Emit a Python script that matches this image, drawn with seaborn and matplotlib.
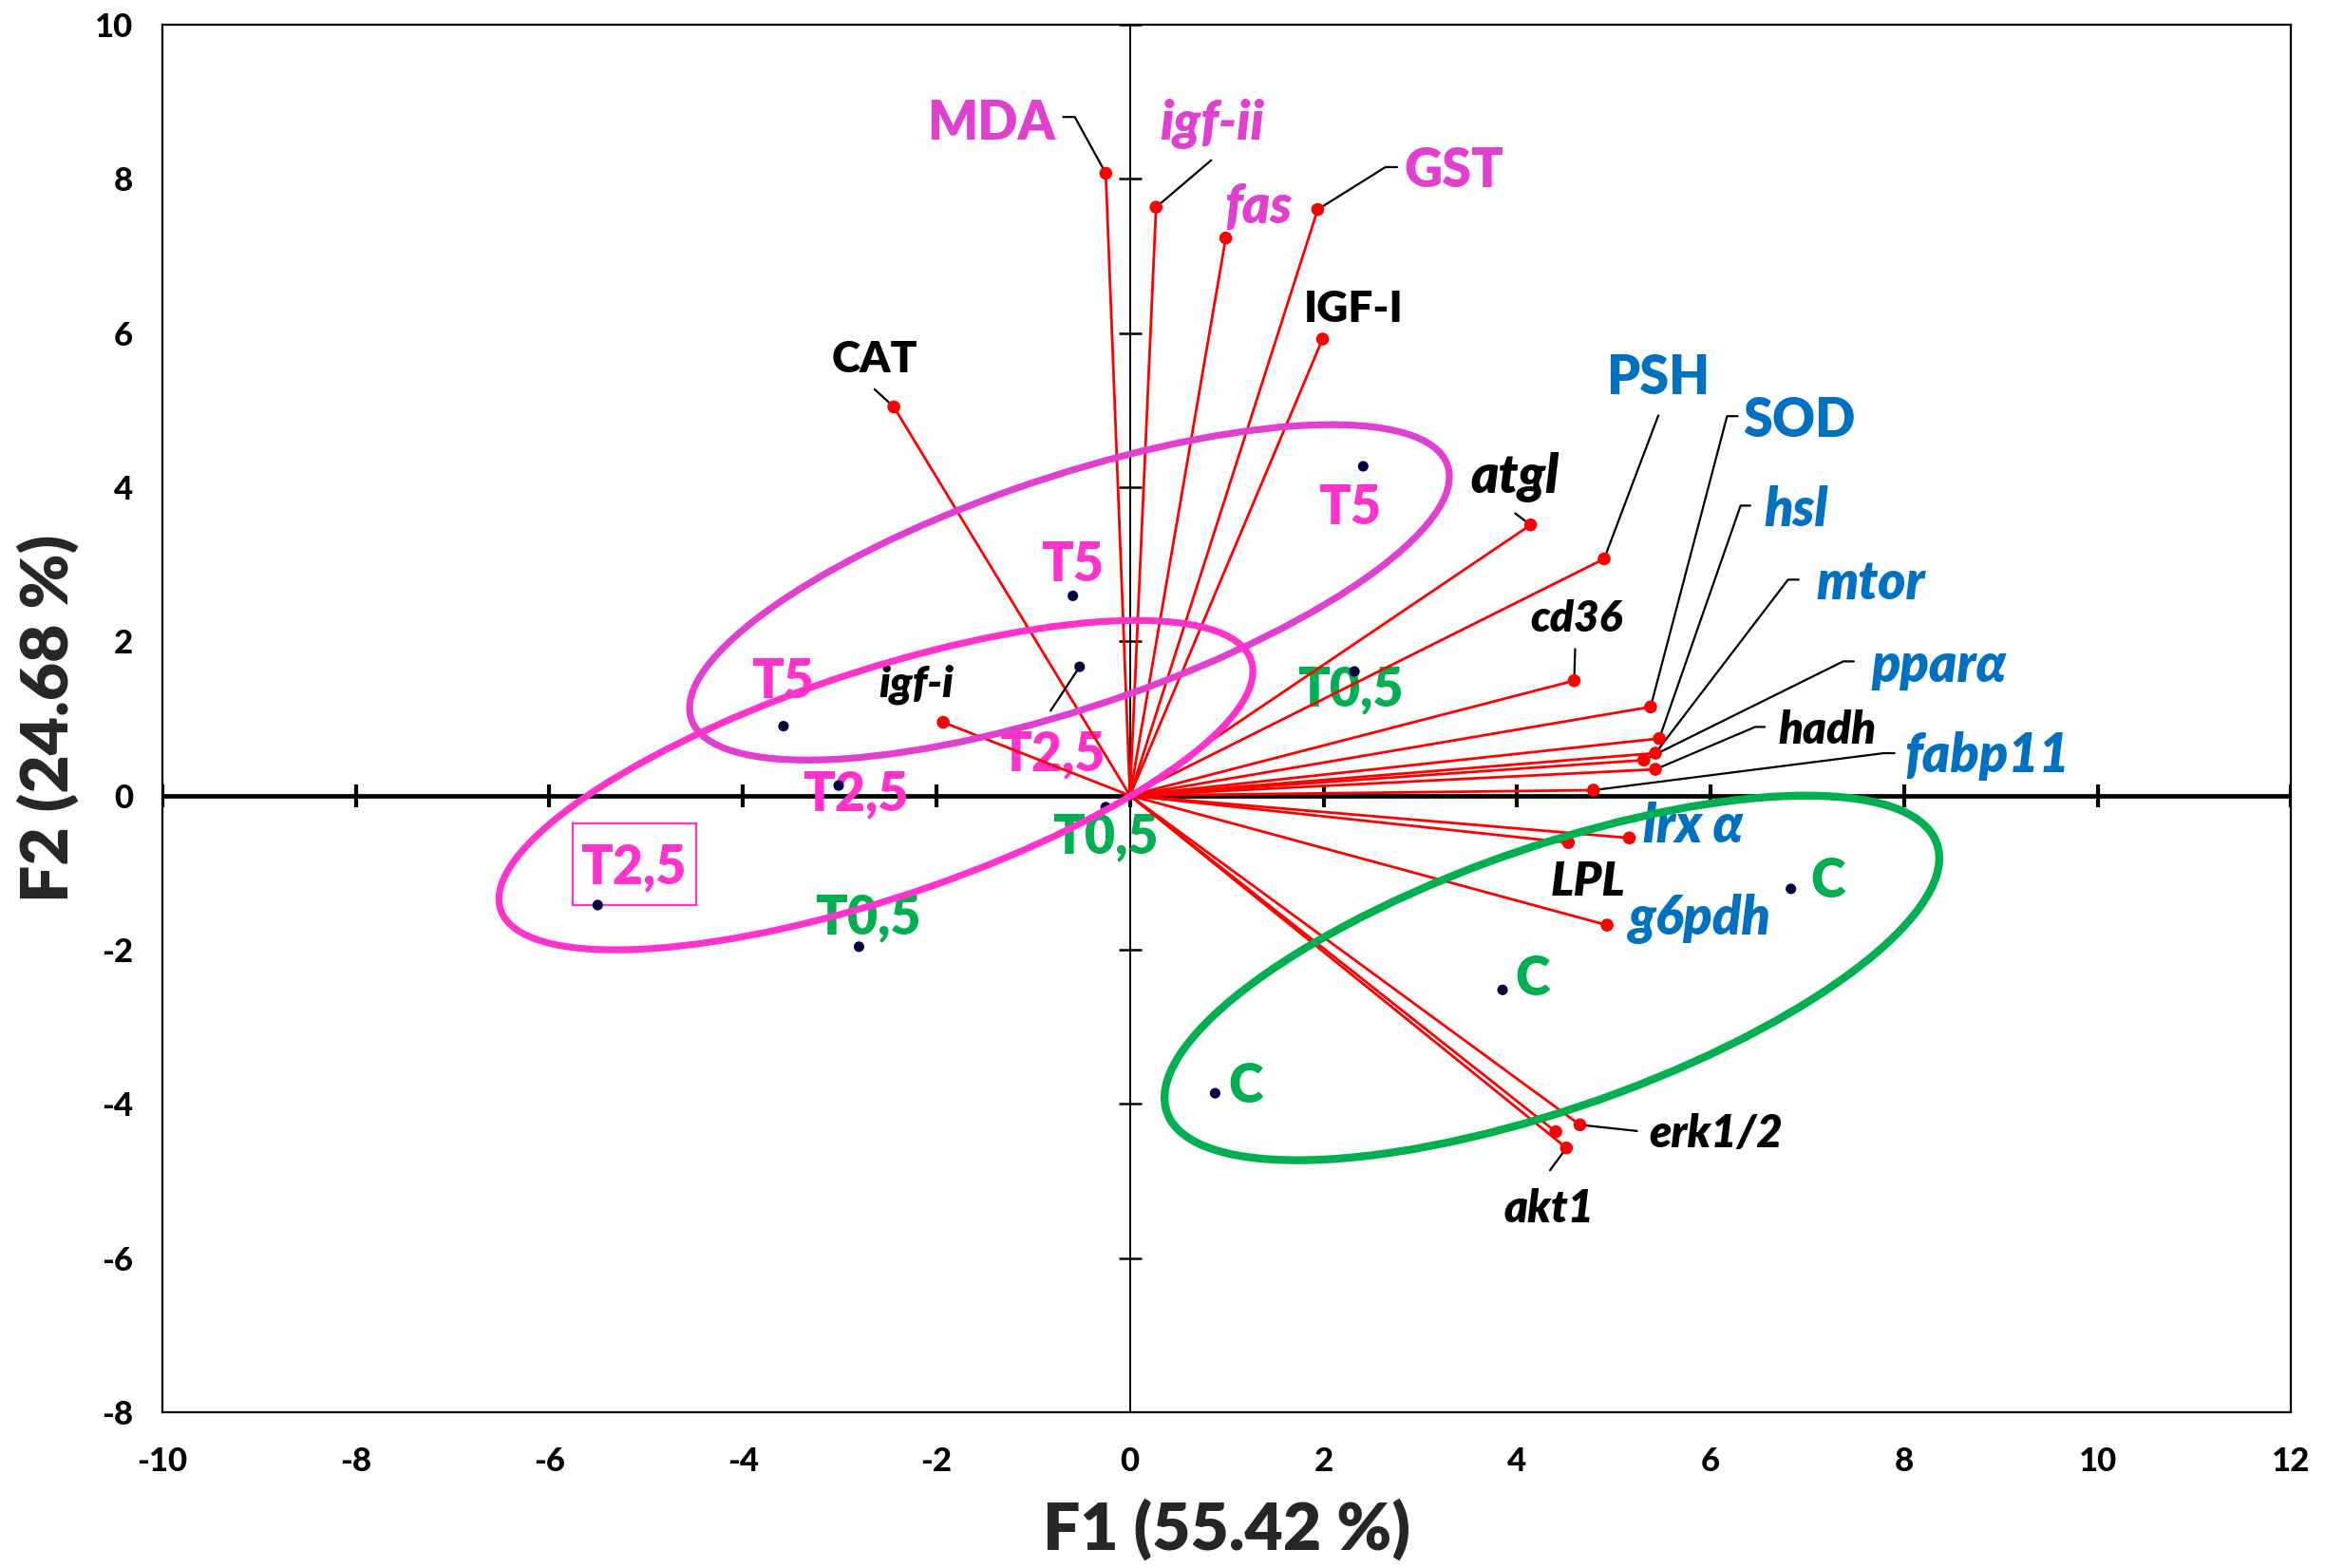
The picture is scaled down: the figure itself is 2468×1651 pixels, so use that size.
import numpy as np
import pandas as pd
import matplotlib
matplotlib.use("Agg")
import matplotlib.pyplot as plt
import seaborn as sns
from matplotlib.patches import Ellipse, Rectangle

# Variables (F1 / F2 coordinates of the red vectors)
var_names = ["MDA", "igf-ii", "fas", "GST", "IGF-I", "CAT", "igf-i", "atgl", "PSH", "cd36",
             "SOD", "hsl", "mtor", "pparα", "hadh", "fabp11", "lrx α", "LPL", "g6pdh",
             "erk1/2", "akt1", ""]
var_f1 = [-0.25, 0.27, 0.99, 1.94, 1.99, -2.44, -1.93, 4.14, 4.90, 4.59,
          5.38, 5.47, 5.43, 5.31, 5.43, 4.79, 5.16, 4.53, 4.93,
          4.65, 4.51, 4.40]
var_f2 = [8.07, 7.63, 7.23, 7.60, 5.92, 5.04, 0.95, 3.51, 3.07, 1.49,
          1.15, 0.74, 0.55, 0.46, 0.34, 0.07, -0.55, -0.61, -1.68,
          -4.27, -4.57, -4.36]

# Observations
obs_group = ["T5", "T5", "T5", "T2,5", "T2,5", "T2,5", "T0,5", "T0,5", "T0,5", "C", "C", "C"]
obs_f1 = [2.41, -0.59, -3.58, -0.52, -3.01, -5.50, 2.32, -0.25, -2.80, 6.83, 3.85, 0.88]
obs_f2 = [4.27, 2.59, 0.90, 1.67, 0.13, -1.42, 1.61, -0.15, -1.96, -1.21, -2.52, -3.86]

# Group ellipses (centre, semi-axes, angle in data units)
ell_cx = [-0.625, -2.625, 4.36]
ell_cy = [2.635, 0.135, -2.365]
ell_a = [4.245, 4.206, 4.35]
ell_b = [1.456, 1.43, 1.64]
ell_angle = [23.9, 23.65, 25.0]

x_ticks = list(range(-10, 13, 2))
y_ticks = list(range(-8, 11, 2))

MAG = "#E03FCF"
PINK = "#FF33CC"
GREEN = "#00B050"
BLUE = "#0070C0"
NAVY = "#000040"
RED = "#FF0000"

# label layout: name -> (x, y, colour, italic, size, leader points)
var_layout = {
    "MDA":    (-1.43, 8.51, MAG, False, 20, [(-0.69, 8.80), (-0.57, 8.80)]),
    "igf-ii": (0.85, 8.51, MAG, True, 20, [(0.84, 8.24)]),
    "fas":    (1.33, 7.42, MAG, True, 20, []),
    "GST":    (3.35, 7.89, MAG, False, 20, [(2.76, 8.15), (2.64, 8.15)]),
    "IGF-I":  (2.31, 6.14, "black", False, 16.5, []),
    "CAT":    (-2.64, 5.49, "black", False, 16.5, [(-2.64, 5.27)]),
    "igf-i":  (-2.21, 1.28, "black", True, 16.5, []),
    "atgl":   (3.98, 3.93, "black", True, 20, [(3.98, 3.66)]),
    "PSH":    (5.46, 5.21, BLUE, False, 20, [(5.46, 4.93)]),
    "cd36":   (4.61, 2.13, "black", True, 16.5, [(4.60, 1.90)]),
    "SOD":    (6.92, 4.65, BLUE, False, 20, [(6.28, 4.92), (6.17, 4.92)]),
    "hsl":    (6.88, 3.49, BLUE, True, 20, [(6.41, 3.76), (6.31, 3.76)]),
    "mtor":   (7.65, 2.54, BLUE, True, 20, [(6.91, 2.80), (6.80, 2.80)]),
    "pparα":  (8.36, 1.47, BLUE, True, 20, [(7.48, 1.74), (7.37, 1.74)]),
    "hadh":   (7.21, 0.67, "black", True, 17, [(6.56, 0.89), (6.46, 0.89)]),
    "fabp11": (8.86, 0.30, BLUE, True, 20, [(7.90, 0.55), (7.79, 0.55)]),
    "lrx α":  (5.82, -0.61, BLUE, True, 20, []),
    "LPL":    (4.73, -1.30, "black", True, 18, []),
    "g6pdh":  (5.89, -1.80, BLUE, True, 20, []),
    "erk1/2": (6.05, -4.56, "black", True, 17, [(5.24, -4.35)]),
    "akt1":   (4.33, -5.53, "black", True, 17, [(4.34, -4.86)]),
}
obs_label_pos = [(2.27, 3.52), (-0.59, 2.78), (-3.59, 1.26),
                 (-0.80, 0.32), (-2.84, -0.19), (-5.13, -1.14),
                 (2.28, 1.16), (-0.25, -0.75), (-2.71, -1.79),
                 (7.21, -1.32), (4.16, -2.59), (1.20, -3.98)]
group_color = {"T5": PINK, "T2,5": PINK, "T0,5": GREEN, "C": GREEN}
ell_colors = [MAG, PINK, GREEN]
ell_lw = [2.6, 2.6, 3.0]

sns.set_theme(style="white")
plt.rcParams["font.family"] = ["Lato", "DejaVu Sans"]
plt.rcParams["font.weight"] = "bold"

fig, ax = plt.subplots(figsize=(12.34, 8.255), dpi=200)
fig.subplots_adjust(left=0.0692, right=0.9775, top=0.9844, bottom=0.0992)

vars_df = pd.DataFrame({"name": var_names, "F1": var_f1, "F2": var_f2})
obs_df = pd.DataFrame({"group": obs_group, "F1": obs_f1, "F2": obs_f2})

W = "heavy"

# central axes with cross ticks
ax.axhline(0, color="black", lw=1.7, zorder=1)
ax.axvline(0, color="black", lw=0.7, zorder=1)
ax.plot(x_ticks, [0] * len(x_ticks), ls="none", marker="|", ms=8.5, mew=1.5,
        color="black", zorder=1)
ax.plot([0] * len(y_ticks), y_ticks, ls="none", marker="_", ms=8.5, mew=0.9,
        color="black", zorder=1)

# vectors
for _, r in vars_df.iterrows():
    ax.plot([0, r.F1], [0, r.F2], color=RED, lw=1.0, zorder=3)
sns.scatterplot(data=vars_df, x="F1", y="F2", color=RED, s=24, edgecolor="none",
                ax=ax, zorder=4, legend=False)
sns.scatterplot(data=obs_df, x="F1", y="F2", color=NAVY, s=16, edgecolor="none",
                ax=ax, zorder=4, legend=False)

# variable labels and leader lines
for _, r in vars_df.iterrows():
    if r["name"] not in var_layout:
        continue
    tx, ty, col, it, fs, lead = var_layout[r["name"]]
    ax.text(tx, ty, r["name"], color=col, fontsize=fs, fontweight=W,
            fontstyle="italic" if it else "normal", ha="center", va="baseline", zorder=2)
    if lead:
        xs = [p[0] for p in lead] + [r.F1]
        ys = [p[1] for p in lead] + [r.F2]
        ax.plot(xs, ys, color="black", lw=0.8, zorder=3)

# observation labels
for (lx, ly), g in zip(obs_label_pos, obs_group):
    ax.text(lx, ly, g, color=group_color[g], fontsize=20, fontweight=W,
            ha="center", va="baseline", zorder=2)
ax.plot([-0.82, obs_f1[3]], [1.10, obs_f2[3]], color="black", lw=0.8, zorder=3)
ax.add_patch(Rectangle((-5.76, -1.42), 1.28, 1.06, fill=False, ec=PINK, lw=0.8, zorder=2))

# ellipses
for cx, cy, a, b, ang, c, lw in zip(ell_cx, ell_cy, ell_a, ell_b, ell_angle, ell_colors, ell_lw):
    ax.add_patch(Ellipse((cx, cy), 2 * a, 2 * b, angle=ang, fill=False, ec=c,
                         lw=lw, zorder=5))

ax.set_xlim(-10, 12)
ax.set_ylim(-8, 10)
ax.set_xticks(x_ticks, labels=[str(v) for v in x_ticks])
ax.set_yticks(y_ticks, labels=[str(v) for v in y_ticks])
for lab in ax.get_xticklabels() + ax.get_yticklabels():
    lab.set_fontweight("black")
    lab.set_fontsize(12.5)
    lab.set_color("black")
ax.tick_params(length=0)
ax.tick_params(axis="x", pad=13)
ax.tick_params(axis="y", pad=11)
for s in ax.spines.values():
    s.set_color("black")
    s.set_linewidth(0.8)
ax.set_xlabel("F1 (55.42 %)", fontsize=25, fontweight=W, labelpad=8)
ax.set_ylabel("F2 (24.68 %)", fontsize=25, fontweight=W, labelpad=6)

fig.savefig("out.png", dpi=200)
